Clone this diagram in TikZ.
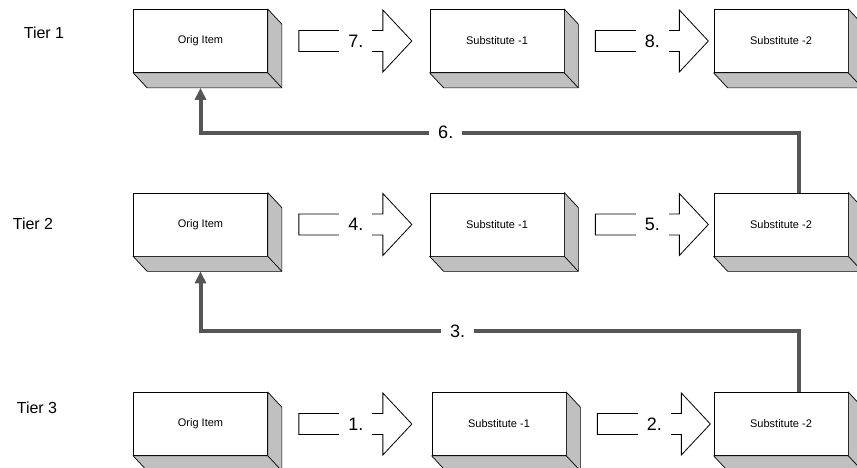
\documentclass[tikz,border=0pt]{standalone}
\usepackage{fontspec}
\setmainfont{Liberation Sans}
\usetikzlibrary{calc,arrows.meta}
\definecolor{boxshade}{HTML}{C0C0C0}
\definecolor{linkgrey}{HTML}{555555}
\tikzset{
  itembox/.style={draw, line width=0.7pt, fill=white, minimum width=134pt,
    minimum height=63pt, inner sep=0pt, font=\fontsize{11}{13}\selectfont},
  tierlabel/.style={font=\fontsize{16}{19}\selectfont},
  steplabel/.style={fill=white, inner xsep=9pt, inner ysep=5pt,
    font=\fontsize{18}{21}\selectfont},
  feedback/.style={draw=linkgrey, line width=4pt,
    -{Triangle[width=11pt,length=12pt]}}
}
% grey sides of a box
\newcommand{\boxdepth}[1]{%
  \filldraw[fill=boxshade, line width=0.7pt] (#1.north east) -- ++(14,15)
    -- ($(#1.south east)+(14,15)$) -- ($(#1.south west)+(14,15)$)
    -- (#1.south west) -- (#1.south east) -- cycle;
  \draw[line width=0.7pt] (#1.south east) -- ++(14,15);}
% hollow block arrow after a box
\newcommand{\blockarrow}[3]{%
  \begin{scope}[shift={($(#1.east)+(31,0)$)}]
    \draw[line width=0.8pt] (0,-10.5) -- (84,-10.5) -- (84,-31) -- (113,0)
      -- (84,31) -- (84,10.5) -- (0,10.5) -- cycle;
    \node[steplabel] (#2) at (57,0) {#3};
  \end{scope}}
\begin{document}
\begin{tikzpicture}[x=1pt,y=-1pt]
\useasboundingbox (0,0) rectangle (857,467);
% tier names
\node[tierlabel] (tier1) at (44,33) {Tier 1};
\node[tierlabel] (tier2) at (33,224) {Tier 2};
\node[tierlabel] (tier3) at (37,408) {Tier 3};
% boxes
\node[itembox] (orig1) at (200.5,41) {Orig Item};
\node[itembox] (subA1) at (497,41) {Substitute -1};
\node[itembox] (subB1) at (781,41) {Substitute -2};
\node[itembox] (orig2) at (200.5,224.5) {Orig Item};
\node[itembox] (subA2) at (497,224.5) {Substitute -1};
\node[itembox] (subB2) at (781,224.5) {Substitute -2};
\node[itembox] (orig3) at (200.5,424) {Orig Item};
\node[itembox] (subA3) at (499,424) {Substitute -1};
\node[itembox] (subB3) at (781,424) {Substitute -2};
\foreach \b in {orig1,subA1,subB1,orig2,subA2,subB2,orig3,subA3,subB3}
  \boxdepth{\b};
% block arrows
\blockarrow{orig3}{step1}{1.}
\blockarrow{subA3}{step2}{2.}
\blockarrow{orig2}{step4}{4.}
\blockarrow{subA2}{step5}{5.}
\blockarrow{orig1}{step7}{7.}
\blockarrow{subA1}{step8}{8.}
% back to the tier above
\coordinate (back3) at ($(orig2.south)+(0,15)$);
\coordinate (back6) at ($(orig1.south)+(0,15)$);
\draw[feedback] ($(subB3.north west)+(85,0)$) -- ++(0,-61) coordinate (turn3)
  -- node[steplabel, pos=0.57] (step3) {3.} (turn3 -| back3) -- (back3);
\draw[feedback] ($(subB2.north west)+(85,0)$) -- ++(0,-60) coordinate (turn6)
  -- node[steplabel, pos=0.59] (step6) {6.} (turn6 -| back6) -- (back6);
\end{tikzpicture}
\end{document}
